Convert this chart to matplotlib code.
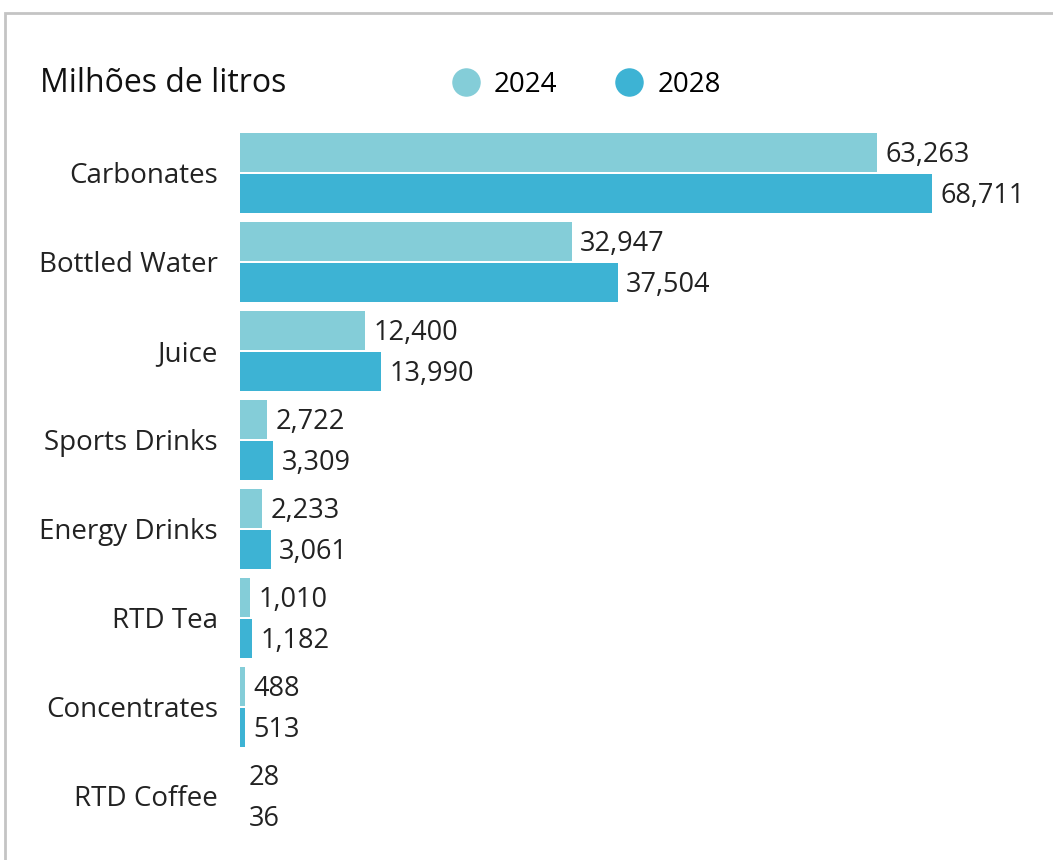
import matplotlib.pyplot as plt
from matplotlib.lines import Line2D
from matplotlib.patches import Rectangle
import numpy as np

categories = ['Carbonates', 'Bottled Water', 'Juice', 'Sports Drinks',
              'Energy Drinks', 'RTD Tea', 'Concentrates', 'RTD Coffee']
values_2024 = [63263, 32947, 12400, 2722, 2233, 1010, 488, 28]
values_2028 = [68711, 37504, 13990, 3309, 3061, 1182, 513, 36]
series_labels = ['2024', '2028']
colors = ['#84cdd8', '#3db3d4']

plt.rcParams['font.family'] = ['Open Sans', 'DejaVu Sans']

fig = plt.figure(figsize=(10.53, 8.6), dpi=100)
ax = fig.add_axes([240/1053, 0.0227, 806/1053, 0.8383])

y = np.arange(len(categories))
h = 0.43
off = 0.23
bars1 = ax.barh(y - off, values_2024, height=h, color=colors[0])
bars2 = ax.barh(y + off, values_2028, height=h, color=colors[1])

for bars in (bars1, bars2):
    for b in bars:
        w = b.get_width()
        ax.annotate(f'{w:,}', (w, b.get_y() + b.get_height()/2),
                    xytext=(6, -2), textcoords='offset points',
                    va='center', ha='left', fontsize=19.5, color='#222222')

ax.set_xlim(0, 80000)
ax.set_ylim(7.5, -0.6)
ax.set_yticks(y)
ax.set_yticklabels(categories, fontsize=20, color='#222222')
ax.tick_params(axis='y', length=0, pad=16)
ax.set_xticks([])
for s in ax.spines.values():
    s.set_visible(False)

fig.text(40/1053, 1 - 84/860, 'Milhões de litros', fontsize=23,
         va='center', ha='left', color='#111111')

handles = [Line2D([], [], marker='o', linestyle='', markersize=19.5, color=c)
           for c in colors]
fig.legend(handles, series_labels, loc='center left',
           bbox_to_anchor=(427/1053, 1 - 85/860), bbox_transform=fig.transFigure,
           ncol=2, frameon=False, fontsize=20, handlelength=1.0,
           handletextpad=0.5, columnspacing=2.1)

fig.add_artist(Rectangle((5/1053, -0.1), 1.2, 1.1 - 13/860,
                         transform=fig.transFigure, fill=False,
                         edgecolor='#c4c4c4', linewidth=2))

fig.savefig('out.png', dpi=100)
